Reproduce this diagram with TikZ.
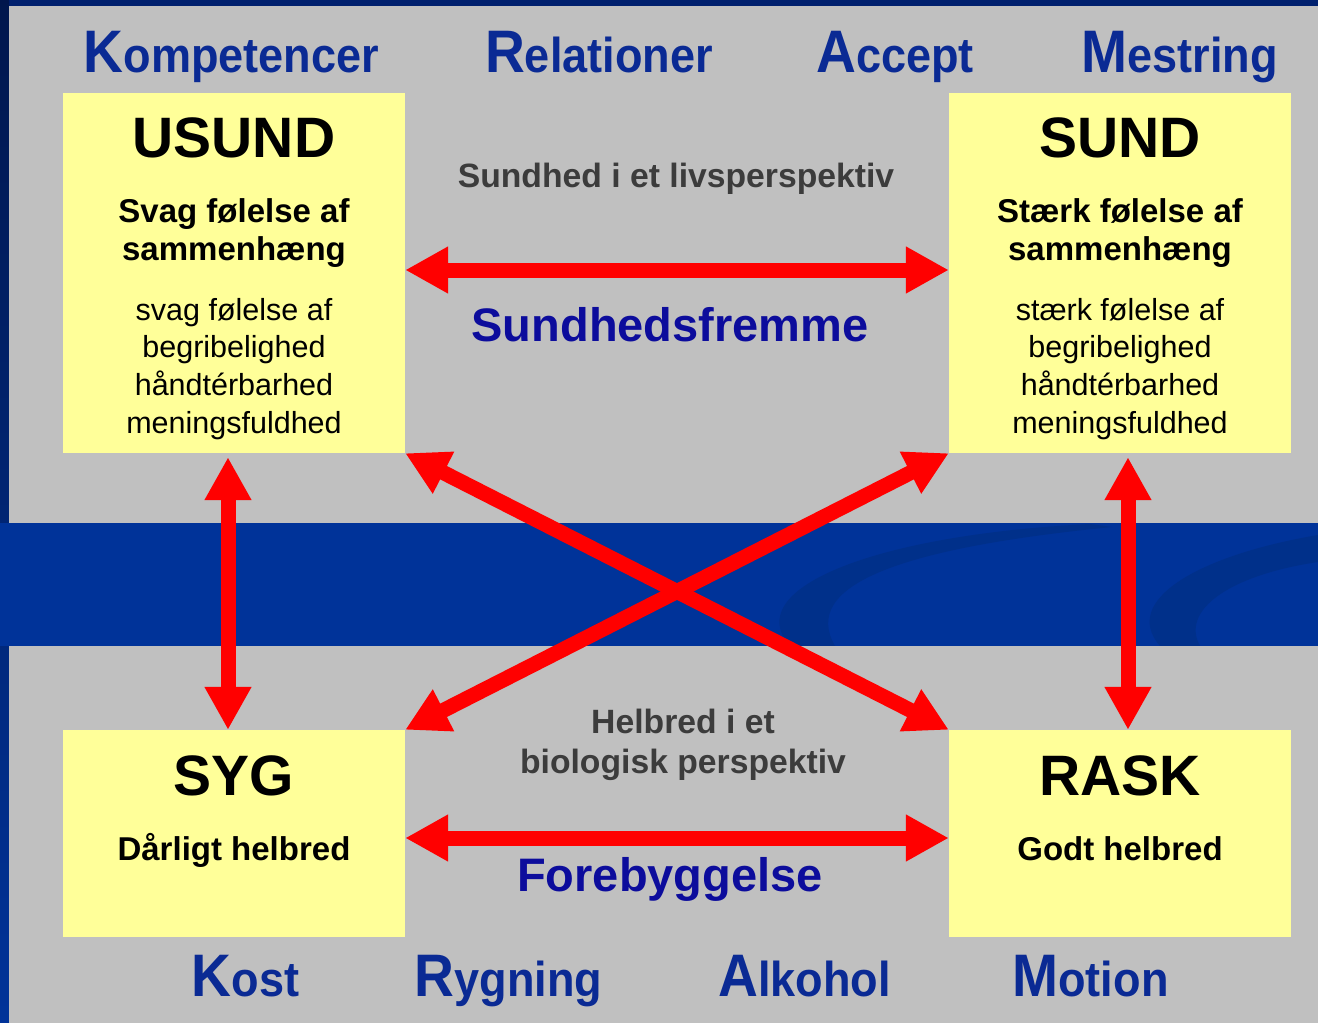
\documentclass[tikz,border=0pt]{standalone}
\usepackage{fontspec}
\setmainfont{Liberation Sans}
\usetikzlibrary{arrows.meta,%
                positioning}

\definecolor{framenavy}{HTML}{00206E}
\definecolor{panelgray}{HTML}{C0C0C0}
\definecolor{bandblue}{HTML}{003399}
\definecolor{swirlblue}{HTML}{00308A}
\definecolor{boxyellow}{HTML}{FFFF99}
\definecolor{wordblue}{HTML}{0A2A94}
\definecolor{midblue}{HTML}{0C0C9C}
\definecolor{notegray}{HTML}{3C3C3C}
\definecolor{arrowred}{HTML}{FF0000}

\newcommand{\fs}[1]{\fontsize{#1}{#1}\selectfont}
\newcommand{\capword}[2]{\scalebox{0.92}[1]{{\fs{60}#1}{\fs{49}#2}}}

\tikzset{
	panel/.style={fill=boxyellow, inner sep=0pt, minimum width=342pt},
	word/.style={anchor=base, text=wordblue, font=\bfseries, inner sep=0pt},
	title/.style={anchor=base, font=\fs{57}\bfseries, inner sep=0pt},
	subhead/.style={anchor=base, font=\fs{33}\bfseries, inner sep=0pt},
	plain/.style={anchor=base, font=\fs{30.5}, inner sep=0pt},
	note/.style={anchor=base, text=notegray, font=\fs{33.7}\bfseries, inner sep=0pt},
	theme/.style={anchor=base, text=midblue, font=\fs{47}\bfseries, inner sep=0pt},
	link/.style={draw=arrowred, line width=15pt,
		{Triangle[length=43pt,width=44pt]}-{Triangle[length=43pt,width=44pt]}}
}

\begin{document}
\begin{tikzpicture}[x=1pt,y=-1pt]
		\useasboundingbox (0,0) rectangle (1318,1023);
		% frame and background
		\fill[framenavy] (0,0) rectangle (1318,1023);
		\shade[top color=framenavy!70!black, bottom color=bandblue] (0,0) rectangle (9,1023);
		\fill[panelgray] (9,6) rectangle (1318,523);
		\fill[bandblue] (0,523) rectangle (1318,646);
		\fill[swirlblue] (790,646) .. controls (740,590) and (870,535) .. (1090,524)
			-- (1112,527) .. controls (900,548) and (800,585) .. (835,646) -- cycle;
		\fill[swirlblue] (1160,646) .. controls (1120,600) and (1200,555) .. (1318,535)
			-- (1318,562) .. controls (1230,575) and (1180,610) .. (1200,646) -- cycle;
		\fill[panelgray] (9,646) rectangle (1318,1023);
		% boxes
		\node[panel, minimum height=360pt] (usund) at (234,273) {};
		\node[panel, minimum height=360pt] (sund) at (1120,273) {};
		\node[panel, minimum height=207pt] (syg) at (234,833.5) {};
		\node[panel, minimum height=207pt] (rask) at (1120,833.5) {};
		% box texts
		\node[title] (usund-t) at (234,157) {USUND};
		\node[subhead] (usund-s1) at (234,222) {Svag følelse af};
		\node[subhead] (usund-s2) at (234,260) {sammenhæng};
		\foreach \txt [count=\i] in {svag følelse af, begribelighed, håndtérbarhed, meningsfuldhed}
			\node[plain] (usund-p\i) at (234,{320+37.7*(\i-1)}) {\txt};
		\node[title] (sund-t) at (1120,157) {SUND};
		\node[subhead] (sund-s1) at (1120,222) {Stærk følelse af};
		\node[subhead] (sund-s2) at (1120,260) {sammenhæng};
		\foreach \txt [count=\i] in {stærk følelse af, begribelighed, håndtérbarhed, meningsfuldhed}
			\node[plain] (sund-p\i) at (1120,{320+37.7*(\i-1)}) {\txt};
		\node[title] (syg-t) at (234,795) {SYG};
		\node[subhead] (syg-s) at (234,860) {Dårligt helbred};
		\node[title] (rask-t) at (1120,795) {RASK};
		\node[subhead] (rask-s) at (1120,860) {Godt helbred};
		% middle texts
		\node[note] (livs) at (676,187) {Sundhed i et livsperspektiv};
		\node[theme] (fremme) at (670,341) {Sundhedsfremme};
		\node[note] (helbred1) at (683,733) {Helbred i et};
		\node[note] (helbred2) at (683,773) {biologisk perspektiv};
		\node[theme] (forebyg) at (670,891) {Forebyggelse};
		% words top and bottom
		\node[word] (komp) at (231.5,72) {\capword{K}{ompetencer}};
		\node[word] (rel) at (599,72) {\capword{R}{elationer}};
		\node[word] (acc) at (895,72) {\capword{A}{ccept}};
		\node[word] (mes) at (1179.5,72) {\capword{M}{estring}};
		\node[word] (kost) at (245.5,996) {\capword{K}{ost}};
		\node[word] (ryg) at (508.5,996) {\capword{R}{ygning}};
		\node[word] (alk) at (804.5,996) {\capword{A}{lkohol}};
		\node[word] (mot) at (1090.5,996) {\capword{M}{otion}};
		% arrows
		\draw[link] ([yshift=3pt]usund.east) -- ([yshift=3pt]sund.west);
		\draw[link] ([yshift=-4.5pt]syg.east) -- ([yshift=-4.5pt]rask.west);
		\draw[link, shorten <=4pt] ([xshift=-6pt]usund.south) -- ([xshift=-6pt]syg.north);
		\draw[link, shorten <=4pt] ([xshift=8pt]sund.south) -- ([xshift=8pt]rask.north);
		\draw[link] (usund.south east) -- (rask.north west);
		\draw[link] (sund.south west) -- (syg.north east);
\end{tikzpicture}
\end{document}
